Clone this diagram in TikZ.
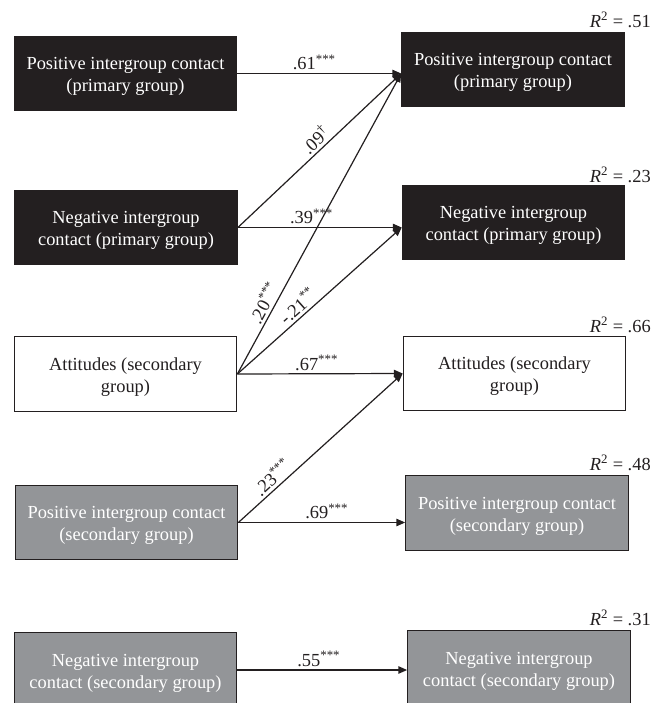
\documentclass[tikz,border=0pt]{standalone}
\usepackage{fontspec}
\setmainfont{Liberation Serif}
\usetikzlibrary{arrows.meta}
\definecolor{ink}{RGB}{35,31,32}
\definecolor{boxgray}{RGB}{147,149,152}
\newcommand{\topstrut}{\rule{0pt}{14pt}}
\begin{document}
\begin{tikzpicture}[x=0.75pt,y=-0.75pt,
  every node/.style={font=\fontsize{13.8}{16.5}\selectfont, text=ink},
  vbox/.style={minimum width=167pt, minimum height=56pt, inner sep=0pt, align=center, draw=ink, line width=0.8pt},
  blackbox/.style={vbox, fill=ink, text=white},
  whitebox/.style={vbox, fill=white},
  graybox/.style={vbox, fill=boxgray, text=white},
  conn/.style={draw=ink, line width=0.9pt, -{Triangle[length=6.5pt,width=5.5pt]}},
  coef/.style={inner sep=2pt},
  rsq/.style={anchor=east, inner sep=0pt}]
\clip (0,0) rectangle (667,703);
\fill[white] (0,0) rectangle (667,703);

% left column
\node[blackbox] (L1) at (125.5,73.5) {\topstrut Positive intergroup contact\\(primary group)};
\node[blackbox] (L2) at (126,227.5) {\topstrut Negative intergroup\\contact (primary group)};
\node[whitebox] (L3) at (125.5,374) {\topstrut Attitudes (secondary\\group)};
\node[graybox]  (L4) at (126.5,522.5) {\topstrut Positive intergroup contact\\(secondary group)};
\node[graybox]  (L5) at (125.5,670) {\topstrut Negative intergroup\\contact (secondary group)};

% right column
\node[blackbox] (R1) at (513,69.5) {\topstrut Positive intergroup contact\\(primary group)};
\node[blackbox] (R2) at (513.5,222.5) {\topstrut Negative intergroup\\contact (primary group)};
\node[whitebox] (R3) at (514.5,373.5) {\topstrut Attitudes (secondary\\group)};
\node[graybox]  (R4) at (517,513) {\topstrut Positive intergroup contact\\(secondary group)};
\node[graybox]  (R5) at (519,668) {\topstrut Negative intergroup\\contact (secondary group)};

% R squared
\node[rsq] (r1) at (651,20)  {\textit{R}\textsuperscript{2} = .51};
\node[rsq] (r2) at (651,175) {\textit{R}\textsuperscript{2} = .23};
\node[rsq] (r3) at (651,325) {\textit{R}\textsuperscript{2} = .66};
\node[rsq] (r4) at (651,463) {\textit{R}\textsuperscript{2} = .48};
\node[rsq] (r5) at (651,618) {\textit{R}\textsuperscript{2} = .31};

% entry points
\coordinate (R1in) at (L1.east -| R1.west);
\coordinate (R2in) at (L2.east -| R2.west);
\coordinate (R4in) at (L4.east -| R4.west);
\coordinate (R5in) at (L5.east -| R5.west);

% paths
\draw[conn] (L1.east) -- node[coef, pos=0.47, above] {.61\textsuperscript{***}} (R1in);
\draw[conn] (L2.east) -- node[coef, pos=0.52, sloped, above] {.09\textsuperscript{\textdagger}} (R1in);
\draw[conn] (L2.east) -- node[coef, pos=0.45, above] {.39\textsuperscript{***}} (R2in);
\draw[conn] (L3.east) -- node[coef, pos=0.22, sloped, above] {.20\textsuperscript{***}} (R1in);
\draw[conn] (L3.east) -- node[coef, pos=0.41, sloped, above] {-.21\textsuperscript{**}} (R2in);
\draw[conn] (L3.east) -- node[coef, pos=0.48, above] {.67\textsuperscript{***}} (R3.west);
\draw[conn] (L4.east) -- node[coef, pos=0.25, sloped, above] {.23\textsuperscript{***}} (R3.west);
\draw[conn] (L4.east) -- node[coef, pos=0.53, above] {.69\textsuperscript{***}} (R4in);
\draw[conn] (L5.east) -- node[coef, pos=0.48, above] {.55\textsuperscript{***}} (R5in);
\end{tikzpicture}
\end{document}
